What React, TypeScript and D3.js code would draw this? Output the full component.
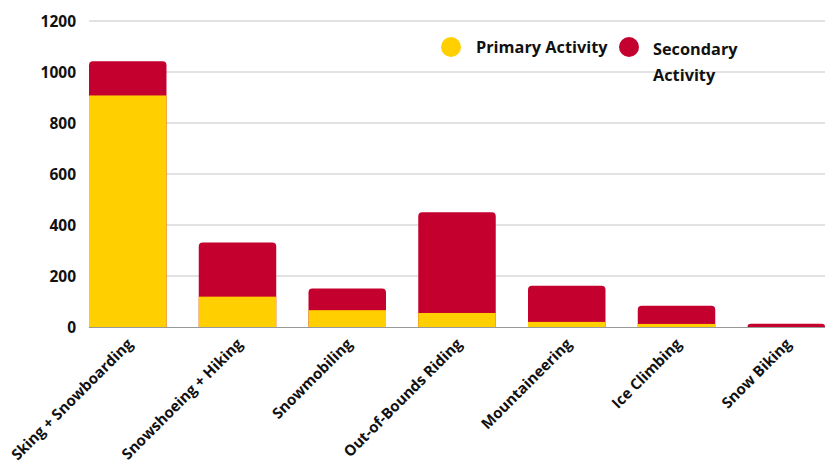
import React from "react";
import * as d3 from "d3";

const categories = [
  "Sking + Snowboarding",
  "Snowshoeing + Hiking",
  "Snowmobiling",
  "Out-of-Bounds Riding",
  "Mountaineering",
  "Ice Climbing",
  "Snow Biking",
];
const primary = [908, 119, 66, 55, 20, 12, 0];
const secondary = [134, 212, 85, 395, 142, 71, 13];
const yTicks = [0, 200, 400, 600, 800, 1000, 1200];
const seriesNames = ["Primary Activity", "Secondary Activity"];
const colors = ["#FFCF00", "#C4002F"];

const W = 834;
const H = 463;
const left = 89;
const right = 825;
const top = 21;
const bottom = 327;
const font = "'Open Sans', sans-serif";

function topRounded(x: number, y: number, w: number, h: number, r: number) {
  const rr = Math.min(r, h, w / 2);
  const p = d3.path();
  p.moveTo(x, y + h);
  p.lineTo(x, y + rr);
  p.arcTo(x, y, x + rr, y, rr);
  p.lineTo(x + w - rr, y);
  p.arcTo(x + w, y, x + w, y + rr, rr);
  p.lineTo(x + w, y + h);
  p.closePath();
  return p.toString();
}

export default function App() {
  const x = d3
    .scaleBand<string>()
    .domain(categories)
    .range([left, right])
    .paddingInner(0.294)
    .paddingOuter(0);
  const y = d3.scaleLinear().domain([0, 1200]).range([bottom, top]);
  const bw = x.bandwidth();

  return (
    <svg
      width={W}
      height={H}
      style={{ position: "absolute", left: 0, top: 0, background: "#fff" }}
      fontFamily={font}
    >
      {yTicks.map((t) => (
        <g key={t}>
          {t !== 0 && (
            <line
              x1={left}
              x2={right}
              y1={y(t)}
              y2={y(t)}
              stroke="#d9d9d9"
              strokeWidth={1.3}
            />
          )}
          <text
            x={76}
            y={y(t)}
            dy="0.36em"
            textAnchor="end"
            fontSize={15.5}
            fontWeight={700}
            fill="#111"
          >
            {t}
          </text>
        </g>
      ))}
      {categories.map((c, i) => {
        const x0 = x(c)!;
        const yP = y(primary[i]);
        const yT = y(primary[i] + secondary[i]);
        return (
          <g key={c}>
            <path
              d={topRounded(x0, yT, bw, y(0) - yT, 4)}
              fill={colors[1]}
            />
            {primary[i] > 0 && (
              <rect x={x0} y={yP} width={bw} height={y(0) - yP} fill={colors[0]} />
            )}
          </g>
        );
      })}
      <line
        x1={left}
        x2={right}
        y1={bottom + 0.5}
        y2={bottom + 0.5}
        stroke="#999"
        strokeWidth={1.2}
      />
      {categories.map((c) => {
        const cx = x(c)! + bw / 2 + 6;
        const cy = 345;
        return (
          <text
            key={c}
            transform={`translate(${cx},${cy}) rotate(-45)`}
            textAnchor="end"
            fontSize={15}
            fontWeight={700}
            fill="#111"
          >
            {c}
          </text>
        );
      })}
      <g>
        <circle cx={451} cy={47} r={10} fill={colors[0]} />
        <text x={476} y={53} fontSize={16.3} fontWeight={700} fill="#111">
          {seriesNames[0]}
        </text>
        <circle cx={629} cy={47} r={10} fill={colors[1]} />
        <text x={653} y={55} fontSize={16.3} fontWeight={700} fill="#111">
          <tspan x={653}>Secondary</tspan>
          <tspan x={653} dy={26}>
            Activity
          </tspan>
        </text>
      </g>
    </svg>
  );
}
